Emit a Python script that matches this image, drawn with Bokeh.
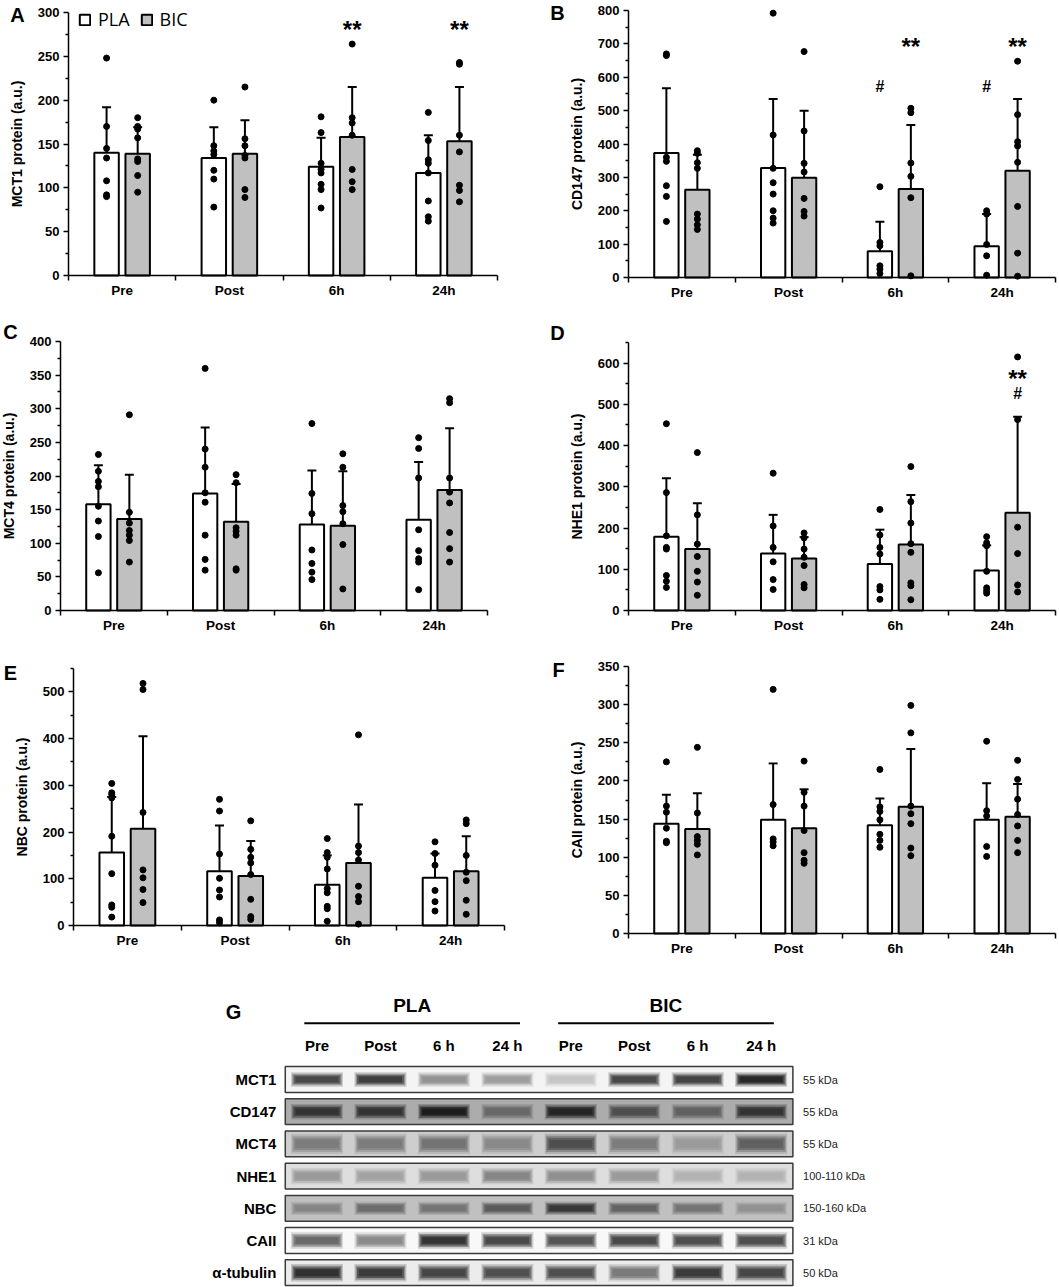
import numpy as np
from bokeh.plotting import figure
from bokeh.models import (Range1d, FixedTicker, Legend, LegendItem, ColumnDataSource,
                          LinearAxis)
from bokeh.layouts import column, row
from bokeh.embed import file_html
from bokeh.resources import INLINE
from bokeh.core.properties import value

FONT = "Liberation Sans"

categories = ["Pre", "Post", "6h", "24h"]
groups = ["PLA", "BIC"]

# ---------------- Panel A: MCT1 ----------------
mct1_pla_mean = [140, 134, 124, 117]
mct1_pla_err = [192, 169, 157, 160]
mct1_bic_mean = [139, 139, 158, 153]
mct1_bic_err = [169, 177, 215, 215]
mct1_pla_pts = [[248, 170, 145, 134, 108, 92, 90],
                [200, 148, 142, 138, 120, 110, 78],
                [181, 163, 128, 121, 117, 104, 98, 77],
                [186, 154, 132, 128, 117, 85, 67, 62]]
mct1_bic_pts = [[180, 170, 167, 157, 133, 130, 114, 95],
                [215, 156, 148, 137, 134, 98, 89],
                [264, 180, 174, 160, 121, 107, 98],
                [243, 241, 160, 141, 103, 97, 84]]
mct1_sig_bic = ["", "", "**", "**"]

# ---------------- Panel B: CD147 ----------------
cd147_pla_mean = [373, 328, 79, 94]
cd147_pla_err = [567, 535, 167, 190]
cd147_bic_mean = [263, 299, 265, 320]
cd147_bic_err = [368, 500, 457, 535]
cd147_pla_pts = [[670, 665, 360, 348, 275, 243, 168],
                 [792, 427, 327, 284, 250, 200, 178, 163],
                 [272, 105, 95, 35, 25, 12],
                 [200, 190, 99, 65, 7]]
cd147_bic_pts = [[380, 372, 344, 327, 190, 175, 158, 144],
                 [677, 439, 342, 316, 237, 198, 184],
                 [507, 494, 343, 303, 239, 5],
                 [648, 488, 407, 394, 345, 213, 73, 4]]
cd147_sig_pla = ["", "", "#", "#"]
cd147_sig_bic = ["", "", "**", "**"]

# ---------------- Panel C: MCT4 ----------------
mct4_pla_mean = [158, 174, 128, 135]
mct4_pla_err = [216, 272, 208, 221]
mct4_bic_mean = [136, 132, 126, 179]
mct4_bic_err = [202, 188, 207, 271]
mct4_pla_pts = [[232, 207, 192, 184, 155, 133, 110, 56],
                [360, 240, 213, 175, 161, 112, 76, 60],
                [278, 174, 144, 90, 70, 57, 46],
                [257, 241, 197, 120, 89, 77, 72, 31]]
mct4_bic_pts = [[291, 146, 130, 119, 112, 104, 72],
                [202, 190, 123, 118, 112, 62, 60],
                [233, 213, 156, 147, 129, 98, 32],
                [315, 309, 197, 176, 160, 116, 92, 72]]

# ---------------- Panel D: NHE1 ----------------
nhe1_pla_mean = [179, 138, 113, 97]
nhe1_pla_err = [321, 232, 196, 158]
nhe1_bic_mean = [149, 126, 160, 237]
nhe1_bic_err = [260, 178, 280, 470]
nhe1_pla_pts = [[453, 286, 181, 153, 149, 85, 71, 56],
                [333, 205, 153, 118, 75, 51],
                [245, 183, 153, 137, 58, 50, 27],
                [179, 164, 157, 95, 55, 48, 42]]
nhe1_bic_pts = [[383, 232, 161, 131, 95, 69, 37],
                [188, 176, 149, 129, 109, 63, 55],
                [349, 264, 212, 162, 141, 67, 60, 26],
                [615, 463, 202, 138, 62, 45]]
nhe1_sig_bic = ["", "", "", "**"]
nhe1_sig_bic2 = ["", "", "", "#"]

# ---------------- Panel E: NBC ----------------
nbc_pla_mean = [156, 116, 87, 102]
nbc_pla_err = [275, 214, 150, 154]
nbc_bic_mean = [207, 106, 134, 116]
nbc_bic_err = [405, 181, 259, 191]
nbc_pla_pts = [[304, 284, 280, 273, 191, 111, 44, 39, 18],
               [270, 245, 153, 101, 76, 61, 12, 6],
               [186, 156, 146, 121, 79, 70, 41, 36, 9],
               [179, 154, 129, 75, 51, 31]]
nbc_bic_pts = [[518, 505, 242, 119, 102, 77, 49],
               [224, 163, 146, 134, 109, 56, 19, 13],
               [408, 170, 156, 140, 84, 62, 51, 3],
               [226, 218, 150, 114, 96, 54, 24]]

# ---------------- Panel F: CAII ----------------
caii_pla_mean = [144, 149, 142, 149]
caii_pla_err = [182, 223, 177, 197]
caii_bic_mean = [137, 138, 166, 153]
caii_bic_err = [184, 189, 242, 196]
caii_pla_pts = [[225, 167, 159, 138, 121, 119],
                [320, 169, 124, 120, 115],
                [215, 166, 160, 149, 130, 122, 113],
                [252, 161, 154, 114, 101]]
caii_bic_pts = [[244, 158, 127, 122, 117, 103],
                [226, 185, 167, 135, 106, 96, 92],
                [299, 263, 167, 157, 144, 112, 102],
                [227, 202, 176, 156, 141, 122, 106]]

# ---------------- Panel G: western blot ----------------
blot_rows = ["MCT1", "CD147", "MCT4", "NHE1", "NBC", "CAII", "α-tubulin"]
blot_kda = ["55 kDa", "55 kDa", "55 kDa", "100-110 kDa", "150-160 kDa", "31 kDa", "50 kDa"]
blot_lanes = ["Pre", "Post", "6 h", "24 h", "Pre", "Post", "6 h", "24 h"]
blot_background = [244, 172, 206, 222, 192, 248, 236]
band_intensity = [
    [0.80, 0.85, 0.45, 0.40, 0.22, 0.80, 0.82, 0.95],
    [0.80, 0.80, 0.95, 0.45, 0.90, 0.62, 0.50, 0.80],
    [0.45, 0.45, 0.50, 0.38, 0.70, 0.45, 0.28, 0.60],
    [0.35, 0.30, 0.35, 0.45, 0.40, 0.35, 0.22, 0.22],
    [0.35, 0.50, 0.45, 0.60, 0.80, 0.55, 0.45, 0.28],
    [0.65, 0.50, 0.90, 0.80, 0.75, 0.80, 0.78, 0.78],
    [0.90, 0.85, 0.80, 0.75, 0.75, 0.55, 0.85, 0.80],
]
band_thickness = [0.30, 0.32, 0.42, 0.34, 0.28, 0.34, 0.36]

PLA_FILL = "white"
BIC_FILL = "#c0c0c0"
OFF = 0.145
BW = 0.228


def style_common(p):
    p.grid.visible = False
    p.outline_line_color = None
    p.background_fill_color = "white"
    p.border_fill_color = "white"


def bar_panel(letter, ylabel, ymax, major, minor, pla_mean, pla_err, bic_mean, bic_err,
              pla_pts, bic_pts, box, origin, size, letter_at, marks=(), legend=False):
    # box: page-pixel position of the axes (left, right, top, bottom)
    L, R, T, B = box
    ox, oy = origin
    fw, fh = size
    n = len(categories)
    xppu = (R - L) / n
    yppu = (B - T) / ymax
    xr = Range1d((ox - L) / xppu, (ox + fw - L) / xppu)
    yr = Range1d((B - (oy + fh)) / yppu, (B - oy) / yppu)
    p = figure(frame_width=fw, frame_height=fh, min_border_left=0, min_border_right=0,
               min_border_top=0, min_border_bottom=0, x_range=xr, y_range=yr,
               x_axis_location=None, y_axis_location=None,
               output_backend="svg", toolbar_location=None, tools="")
    style_common(p)
    xc = np.arange(n) + 0.5
    xs = {"PLA": xc - OFF, "BIC": xc + OFF}
    means = {"PLA": pla_mean, "BIC": bic_mean}
    errs = {"PLA": pla_err, "BIC": bic_err}
    pts = {"PLA": pla_pts, "BIC": bic_pts}
    fills = {"PLA": PLA_FILL, "BIC": BIC_FILL}
    rends = {}
    for g in groups:
        src = ColumnDataSource(dict(x=xs[g], top=means[g], err=errs[g],
                                    cl=xs[g] - 0.042, cr=xs[g] + 0.042))
        rends[g] = p.vbar(x="x", top="top", bottom=0, width=BW, fill_color=fills[g],
                          line_color="black", line_width=2, source=src)
        p.segment(x0="x", y0="top", x1="x", y1="err", line_color="black", line_width=2, source=src)
        p.segment(x0="cl", y0="err", x1="cr", y1="err", line_color="black", line_width=2, source=src)
        px, py = [], []
        for i, vals in enumerate(pts[g]):
            px += [xs[g][i]] * len(vals)
            py += list(vals)
        p.scatter(px, py, size=6, color="black")
    for g, labels, yv, fs in marks:
        tx = [xs[g][i] for i, t in enumerate(labels) if t]
        tt = [t for t in labels if t]
        p.text(tx, [yv] * len(tx), text=tt, text_align="center", text_baseline="middle",
               text_font=value(FONT), text_font_style="bold", text_font_size=fs, text_color="black")

    ya = LinearAxis(fixed_location=0, bounds=(0, ymax))
    ya.ticker = FixedTicker(ticks=list(range(0, ymax + 1, major)),
                            minor_ticks=[v for v in range(0, ymax + 1, minor) if v % major])
    ya.axis_label = ylabel
    ya.axis_label_text_font = FONT
    ya.axis_label_text_font_style = "bold"
    ya.axis_label_text_font_size = "14px"
    ya.axis_label_standoff = 10
    ya.major_label_text_font = FONT
    ya.major_label_text_font_style = "bold"
    ya.major_label_text_font_size = "13px"
    ya.major_label_standoff = 4
    ya.major_tick_out = 5
    ya.major_tick_in = 0
    ya.minor_tick_out = 3
    ya.minor_tick_in = 0

    xa = LinearAxis(fixed_location=0, bounds=(0, n))
    xa.ticker = FixedTicker(ticks=[float(v) for v in xc], minor_ticks=list(range(n + 1)))
    xa.major_label_overrides = {float(v): c for v, c in zip(xc, categories)}
    xa.major_label_text_font = FONT
    xa.major_label_text_font_style = "bold"
    xa.major_label_text_font_size = "13.5px"
    xa.major_label_standoff = 2
    xa.major_tick_out = 0
    xa.major_tick_in = 0
    xa.minor_tick_out = 5
    xa.minor_tick_in = 0
    for a in (xa, ya):
        a.axis_line_width = 1.5
        a.axis_line_color = "black"
        a.major_tick_line_width = 1.5
        a.minor_tick_line_width = 1.5
        a.major_tick_line_color = "black"
        a.minor_tick_line_color = "black"
        a.major_label_text_color = "black"
        a.axis_label_text_color = "black"
    p.add_layout(ya, "left")
    p.add_layout(xa, "below")

    # panel letter (page pixel position converted to data units)
    lx = (letter_at[0] - L) / xppu
    ly = (B - letter_at[1]) / yppu
    p.text([lx], [ly], text=[letter], text_align="center", text_baseline="middle",
           text_font=value(FONT), text_font_style="bold", text_font_size="20px", text_color="black")

    if legend:
        lg = Legend(items=[LegendItem(label=g, renderers=[rends[g]]) for g in groups],
                    orientation="horizontal", location=(78 - ox, fh - 31), padding=0, margin=0,
                    spacing=10, glyph_width=13, glyph_height=13, label_standoff=7,
                    label_text_font="Open Sans", label_text_font_size="18px",
                    label_text_color="black",
                    border_line_color=None, background_fill_alpha=0)
        p.add_layout(lg)
    return p


pA = bar_panel("A", "MCT1 protein (a.u.)", 300, 50, 25, mct1_pla_mean, mct1_pla_err,
               mct1_bic_mean, mct1_bic_err, mct1_pla_pts, mct1_bic_pts,
               (68, 497, 12, 275), (0, 0), (530, 300), (17, 14),
               marks=[("BIC", mct1_sig_bic, 281, "24px")], legend=True)
pB = bar_panel("B", "CD147 protein (a.u.)", 800, 100, 50, cd147_pla_mean, cd147_pla_err,
               cd147_bic_mean, cd147_bic_err, cd147_pla_pts, cd147_bic_pts,
               (628, 1055, 10, 277), (530, 0), (529, 300), (557, 12),
               marks=[("BIC", cd147_sig_bic, 692, "24px"), ("PLA", cd147_sig_pla, 573, "16px")])
pC = bar_panel("C", "MCT4 protein (a.u.)", 400, 50, 25, mct4_pla_mean, mct4_pla_err,
               mct4_bic_mean, mct4_bic_err, mct4_pla_pts, mct4_bic_pts,
               (60, 487, 341, 610), (0, 300), (530, 340), (10, 331))
pD = bar_panel("D", "NHE1 protein (a.u.)", 650, 100, 50, nhe1_pla_mean, nhe1_pla_err,
               nhe1_bic_mean, nhe1_bic_err, nhe1_pla_pts, nhe1_bic_pts,
               (628, 1055, 342, 610), (530, 300), (529, 340), (557, 332),
               marks=[("BIC", nhe1_sig_bic, 562, "24px"), ("BIC", nhe1_sig_bic2, 527, "16px")])
pE = bar_panel("E", "NBC protein (a.u.)", 550, 100, 50, nbc_pla_mean, nbc_pla_err,
               nbc_bic_mean, nbc_bic_err, nbc_pla_pts, nbc_bic_pts,
               (73, 504, 668, 925), (0, 640), (530, 317), (10, 672))
pF = bar_panel("F", "CAII protein (a.u.)", 350, 50, 25, caii_pla_mean, caii_pla_err,
               caii_bic_mean, caii_bic_err, caii_pla_pts, caii_bic_pts,
               (628, 1055, 666, 933), (530, 640), (529, 317), (558, 669))

# ---------------- Panel G figure ----------------
GW, GH = 1059, 330
LANE_PX, ROW_PX = 63.45, 32.2
LANE0_X, ROW0_Y = 316.5, 122.0
pG = figure(frame_width=GW, frame_height=GH, min_border_left=0, min_border_right=0,
            min_border_top=0, min_border_bottom=0,
            x_range=Range1d(-LANE0_X / LANE_PX, (GW - LANE0_X) / LANE_PX),
            y_range=Range1d((GH - ROW0_Y) / ROW_PX, -ROW0_Y / ROW_PX),
            x_axis_location=None, y_axis_location=None,
            output_backend="svg", toolbar_location=None, tools="")
style_common(pG)

nl = len(blot_lanes)
nr = len(blot_rows)
lane_x = np.arange(nl)
row_y = np.arange(nr)
half = nl // 2
grp_x = [lane_x[:half].mean(), lane_x[half:].mean()]

pG.text([-1.316], [-2.11], text=["G"], text_align="center", text_baseline="middle",
        text_font=value(FONT), text_font_style="bold", text_font_size="20px", text_color="black")
pG.text(grp_x, [-2.30] * 2, text=groups, text_align="center", text_baseline="middle",
        text_font=value(FONT), text_font_style="bold", text_font_size="19px", text_color="black")
pG.segment(x0=[g - 1.7 for g in grp_x], y0=[-1.745] * 2, x1=[g + 1.7 for g in grp_x], y1=[-1.745] * 2,
           line_color="black", line_width=2)
pG.text(lane_x, [-1.056] * nl, text=blot_lanes, text_align="center", text_baseline="middle",
        text_font=value(FONT), text_font_style="bold", text_font_size="15px", text_color="black")
pG.text([-0.64] * nr, row_y, text=blot_rows, text_align="right", text_baseline="middle",
        text_font=value(FONT), text_font_style="bold", text_font_size="15px", text_color="black")
pG.text([nl - 0.5 + 0.16] * nr, row_y, text=blot_kda, text_align="left", text_baseline="middle",
        text_font=value(FONT), text_font_size="11px", text_color="#222222")


def gray(v):
    v = int(max(0, min(255, round(v))))
    return "#%02x%02x%02x" % (v, v, v)


pG.rect(x=[(nl - 1) / 2] * nr, y=row_y, width=nl, height=0.8,
        fill_color=[gray(b) for b in blot_background], line_color="#3a3a3a", line_width=1.5)

layers = [(0.82, 1.5, 0.22), (0.78, 1.2, 0.40), (0.74, 0.9, 0.65), (0.68, 0.6, 1.0)]
for w, hf, a in layers:
    bx, by, bc, bh = [], [], [], []
    for j in range(nr):
        for i in range(nl):
            d = band_intensity[j][i]
            bx.append(lane_x[i])
            by.append(row_y[j])
            bh.append(band_thickness[j] * hf)
            bc.append(gray(blot_background[j] * (1 - 0.88 * d)))
    pG.rect(x=bx, y=by, width=w, height=bh, fill_color=bc, fill_alpha=a, line_color=None)

layout = column(row(pA, pB), row(pC, pD), row(pE, pF), pG)
open("out.html", "w").write(file_html(layout, INLINE))
